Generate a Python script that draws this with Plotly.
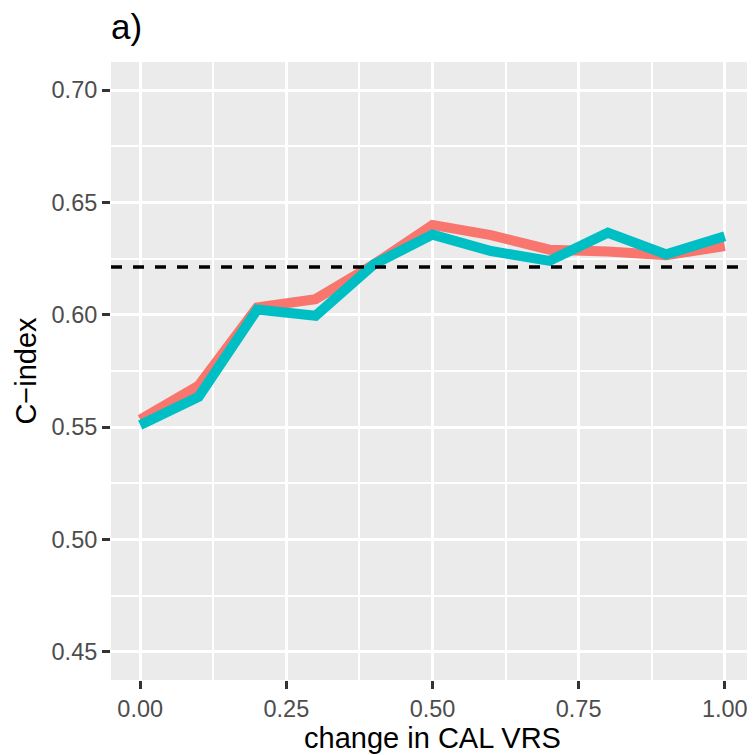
import plotly.graph_objects as go

# ---- data ----
x_change = [0.0, 0.1, 0.2, 0.3, 0.4, 0.5, 0.6, 0.7, 0.8, 0.9, 1.0]
cindex_red = [0.5534, 0.5685, 0.6033, 0.6070, 0.6225, 0.6400, 0.6355, 0.6290, 0.6282, 0.6265, 0.6306]
cindex_cyan = [0.5510, 0.5635, 0.6023, 0.5996, 0.6225, 0.6357, 0.6284, 0.6240, 0.6365, 0.6269, 0.6350]
baseline = 0.6213
x_ticks = [0.0, 0.25, 0.5, 0.75, 1.0]
x_ticktext = ["0.00", "0.25", "0.50", "0.75", "1.00"]
y_ticks = [0.45, 0.50, 0.55, 0.60, 0.65, 0.70]
y_ticktext = ["0.45", "0.50", "0.55", "0.60", "0.65", "0.70"]

FONT = "Liberation Sans, Arial, Helvetica, sans-serif"

fig = go.Figure()
fig.add_trace(go.Scatter(x=x_change, y=cindex_red, mode="lines",
                         line=dict(color="#F8766D", width=10), name="red", showlegend=False))
fig.add_trace(go.Scatter(x=x_change, y=cindex_cyan, mode="lines",
                         line=dict(color="#00BFC4", width=10), name="cyan", showlegend=False))

fig.add_shape(type="line", xref="paper", x0=0, x1=1, yref="y", y0=baseline, y1=baseline,
              line=dict(color="black", width=3.5, dash="11px,11px"), layer="above")

axis_common = dict(
    showline=False, zeroline=False,
    showgrid=True, gridcolor="white", gridwidth=3,
    ticks="outside", ticklen=8, tickwidth=2.7, tickcolor="#333333",
    tickfont=dict(family=FONT, size=23.5, color="#4D4D4D"),
)

fig.update_layout(
    width=747, height=747,
    margin=dict(l=102.5, r=0.5, t=54, b=75, pad=0),
    paper_bgcolor="white", plot_bgcolor="#EBEBEB",
    font=dict(family=FONT),
    title=dict(text="a)", font=dict(family=FONT, size=35, color="black"),
               xref="paper", x=0, xanchor="left",
               yref="container", y=1 - 6 / 747, yanchor="top"),
    xaxis=dict(range=[-0.05, 1.05], tickvals=x_ticks, ticktext=x_ticktext,
               title=dict(text="change in CAL VRS", font=dict(family=FONT, size=29, color="black"), standoff=4),
               minor=dict(dtick=0.125, tick0=0, showgrid=True, gridcolor="white", gridwidth=1.6, ticklen=0),
               **axis_common),
    yaxis=dict(range=[0.4375, 0.7125], tickvals=y_ticks, ticktext=y_ticktext,
               title=dict(text="C\u2212index", font=dict(family=FONT, size=29, color="black"), standoff=6),
               minor=dict(dtick=0.025, tick0=0.45, showgrid=True, gridcolor="white", gridwidth=1.6, ticklen=0),
               **axis_common),
)

fig.write_html("out.html")
